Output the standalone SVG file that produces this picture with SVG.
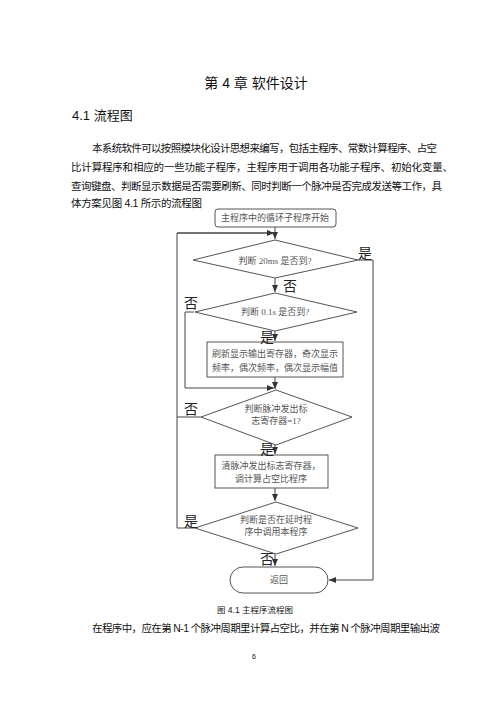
<svg xmlns="http://www.w3.org/2000/svg" width="500" height="707" viewBox="0 0 500 707">
<defs>
<marker id="ah" markerWidth="8" markerHeight="8" refX="7" refY="4" orient="auto" markerUnits="userSpaceOnUse">
<path d="M0,1 L7,4 L0,7 Z" fill="#333"/>
</marker>
<style>
.body{font-family:"Liberation Sans","Noto Sans CJK SC",sans-serif;fill:#111}
.fc{font-family:"Liberation Serif","Noto Sans CJK SC",serif;font-size:9px;fill:#555;text-anchor:middle}
.yn{font-family:"Liberation Serif","Noto Sans CJK SC",serif;font-size:14px;fill:#222;text-anchor:middle}
.shape{fill:#fff;stroke:#555;stroke-width:1}
.ln{fill:none;stroke:#444;stroke-width:1}
</style>
</defs>
<rect width="500" height="707" fill="#fff"/>
<g id="page-text">
<text class="body" x="256" y="88" font-size="14" text-anchor="middle">第 4 章  软件设计</text>
<text class="body" x="72" y="120" font-size="13">4.1 流程图</text>
<text class="body" x="92" y="152" font-size="10.5" textLength="345" lengthAdjust="spacing">本系统软件可以按照模块化设计思想来编写，包括主程序、常数计算程序、占空</text>
<text class="body" x="71" y="171" font-size="10.5" textLength="382" lengthAdjust="spacing">比计算程序和相应的一些功能子程序，主程序用于调用各功能子程序、初始化变量、</text>
<text class="body" x="71" y="190" font-size="10.5" textLength="371" lengthAdjust="spacing">查询键盘、判断显示数据是否需要刷新、同时判断一个脉冲是否完成发送等工作，具</text>
<text class="body" x="71" y="207" font-size="10.5" textLength="131" lengthAdjust="spacing">体方案见图 4.1 所示的流程图</text>
<text class="body" x="255" y="613" font-size="8.5" text-anchor="middle">图 4.1  主程序流程图</text>
<text class="body" x="92" y="632" font-size="10.5" textLength="348" lengthAdjust="spacing">在程序中，应在第 N-1 个脉冲周期里计算占空比，并在第 N 个脉冲周期里输出波</text>
<text class="body" x="254" y="659" font-size="7" text-anchor="middle" fill="#555">6</text>
</g>
<g id="connectors">
<line class="ln" x1="275" y1="227" x2="275" y2="239" marker-end="url(#ah)"/>
<polyline class="ln" points="177,233 177,528 195,528"/>
<polyline class="ln" points="177,233 275,233"/>
<line class="ln" x1="177" y1="417" x2="201" y2="417"/>
<line class="ln" x1="275" y1="278" x2="275" y2="292" marker-end="url(#ah)"/>
<polyline class="ln" points="194,312 185,312 185,388 274,388" marker-end="url(#ah)"/>
<line class="ln" x1="275" y1="331" x2="275" y2="341" marker-end="url(#ah)"/>
<line class="ln" x1="275" y1="377" x2="275" y2="389" marker-end="url(#ah)"/>
<line class="ln" x1="275" y1="445" x2="275" y2="454" marker-end="url(#ah)"/>
<line class="ln" x1="275" y1="488" x2="275" y2="501" marker-end="url(#ah)"/>
<line class="ln" x1="275" y1="554" x2="275" y2="566" marker-end="url(#ah)"/>
<polyline class="ln" points="358,260 373,260 373,580 329,580" marker-end="url(#ah)"/>
<line class="ln" x1="177" y1="233" x2="274" y2="233" marker-end="url(#ah)"/>
</g>
<g id="start">
<rect class="shape" x="215" y="209" width="121" height="18" rx="3"/>
<text class="fc" x="275" y="221">主程序中的循环子程序开始</text>
</g>
<g id="d1">
<polygon class="shape" points="275,240 358,260 275,278 193,260"/>
<text class="fc" x="275" y="264">判断 20ms 是否到?</text>
</g>
<g id="d2">
<polygon class="shape" points="275,293 357,312 275,331 195,312"/>
<text class="fc" x="275" y="315">判断 0.1s 是否到?</text>
</g>
<g id="box-refresh">
<rect class="shape" x="207" y="342" width="136" height="35"/>
<text class="fc" x="275" y="357">刷新显示输出寄存器，奇次显示</text>
<text class="fc" x="275" y="371">频率，偶次频率，偶次显示幅值</text>
</g>
<g id="d3">
<polygon class="shape" points="276,390 352,417 276,445 201,417"/>
<text class="fc" x="276" y="412">判断脉冲发出标</text>
<text class="fc" x="276" y="424">志寄存器=1?</text>
</g>
<g id="box-clear">
<rect class="shape" x="215" y="455" width="113" height="33"/>
<text class="fc" x="271" y="469">清脉冲发出标志寄存器，</text>
<text class="fc" x="271" y="482">调计算占空比程序</text>
</g>
<g id="d4">
<polygon class="shape" points="276,502 358,528 276,554 195,528"/>
<text class="fc" x="276" y="523">判断是否在延时程</text>
<text class="fc" x="276" y="535">序中调用本程序</text>
</g>
<g id="return">
<rect class="shape" x="230" y="567" width="98" height="26" rx="13"/>
<text class="fc" x="279" y="583">返回</text>
</g>
<g id="labels">
<text class="yn" x="365" y="258">是</text>
<text class="yn" x="290" y="291">否</text>
<text class="yn" x="191" y="308">否</text>
<text class="yn" x="267" y="342">是</text>
<text class="yn" x="191" y="414">否</text>
<text class="yn" x="267" y="454">是</text>
<text class="yn" x="191" y="526">是</text>
<text class="yn" x="267" y="564">否</text>
</g>
</svg>
